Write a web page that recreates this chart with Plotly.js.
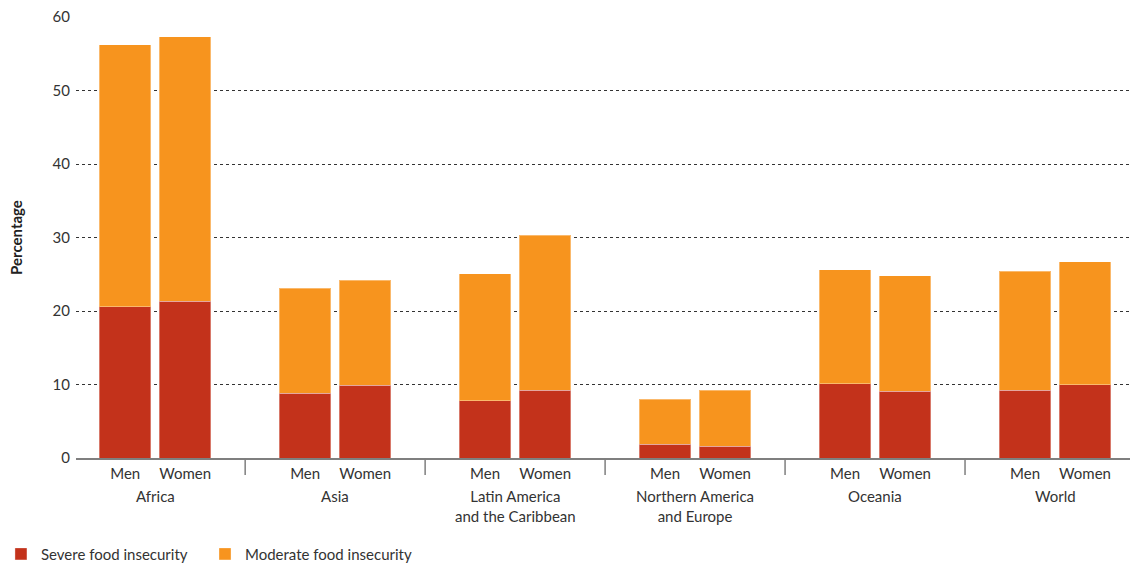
<!DOCTYPE html>
<html>
<head>
<meta charset="utf-8">
<script src="https://cdn.plot.ly/plotly-3.0.1.min.js"></script>
<style>html,body{margin:0;padding:0;background:#fff;}#chart{width:1130px;height:564px;}</style>
</head>
<body>
<div id="chart"></div>
<script>
// ---- data ----
const groups = ['Africa', 'Asia', 'Latin America<br>and the Caribbean', 'Northern America<br>and Europe', 'Oceania', 'World'];
const sexes = ['Men', 'Women'];
// values per bar, order: Africa Men, Africa Women, Asia Men, Asia Women, ...
const severe   = [20.6, 21.3, 8.8, 9.9, 7.8, 9.2, 1.9, 1.6, 10.1, 9.1, 9.2, 10.0];
const moderate = [35.6, 36.0, 14.3, 14.3, 17.3, 21.1, 6.1, 7.6, 15.5, 15.7, 16.2, 16.7];
const seriesNames = ['Severe food insecurity', 'Moderate food insecurity'];
const yTicks = [0, 10, 20, 30, 40, 50, 60];

// ---- layout helpers (positions) ----
const GROUP_STEP = 3;
const xPos = [], xText = [];
groups.forEach((g, gi) => sexes.forEach((s, si) => { xPos.push(gi * GROUP_STEP + si); xText.push(s); }));

const FONT = 'Lato, "Open Sans", sans-serif';
const TXT = '#333333';

const traces = [
  {type: 'bar', name: seriesNames[0], x: xPos, y: severe, legend: 'legend',
   marker: {color: '#C3321B', line: {color: 'rgba(255,255,255,0.35)', width: 1}}, width: 0.86, hoverinfo: 'y'},
  {type: 'bar', name: seriesNames[1], x: xPos, y: moderate, legend: 'legend2',
   marker: {color: '#F7941E', line: {color: 'rgba(255,255,255,0.35)', width: 1}}, width: 0.86, hoverinfo: 'y'}
];

const shapes = [];
for (let gi = 0; gi < groups.length - 1; gi++) {
  const xd = gi * GROUP_STEP + 2;
  shapes.push({type: 'line', xref: 'x', yref: 'paper', x0: xd, x1: xd, y0: 0, y1: -17 / 441,
               line: {color: '#7f7f7f', width: 1.5}});
}

const annotations = groups.map((g, gi) => ({
  text: g, xref: 'x', yref: 'paper', x: gi * GROUP_STEP + 0.5, y: 0,
  yanchor: 'top', xanchor: 'center', yshift: -27, showarrow: false,
  font: {family: FONT, size: 15, color: TXT}, align: 'center'
}));

const legendBase = {orientation: 'h', xanchor: 'left', y: -0.218, yanchor: 'middle',
                    font: {family: FONT, size: 15, color: TXT}, itemclick: false, bgcolor: 'rgba(0,0,0,0)'};

const layout = {
  width: 1130, height: 564, autosize: false,
  margin: {l: 76, r: 0, t: 17, b: 106, autoexpand: false},
  paper_bgcolor: '#fff', plot_bgcolor: '#fff',
  barmode: 'stack',
  font: {family: FONT, size: 15, color: TXT},
  showlegend: true,
  legend: Object.assign({}, legendBase, {x: -0.0712}),
  legend2: Object.assign({}, legendBase, {x: 0.1224}),
  xaxis: {range: [-0.82, 16.75], tickmode: 'array', tickvals: xPos, ticktext: xText,
          showgrid: false, zeroline: false, showline: true, linecolor: '#7f7f7f', linewidth: 1.5,
          ticks: 'outside', ticklen: 0, tickcolor: 'rgba(0,0,0,0)', ticklabelstandoff: 1,
          tickfont: {family: FONT, size: 15, color: TXT}, fixedrange: true},
  yaxis: {range: [0, 60], tickmode: 'array', tickvals: yTicks, ticktext: yTicks.map(String),
          showgrid: true, gridcolor: '#333', gridwidth: 1, griddash: '3px,3px',
          zeroline: false, showline: false, ticks: '', ticklabelstandoff: 5,
          tickfont: {family: FONT, size: 15, color: TXT},
          title: {text: '<b>Percentage</b>', font: {family: FONT, size: 15, color: '#222'}, standoff: 26},
          fixedrange: true},
  shapes: shapes,
  annotations: annotations
};

Plotly.newPlot('chart', traces, layout, {displayModeBar: false, staticPlot: true});
</script>
</body>
</html>
